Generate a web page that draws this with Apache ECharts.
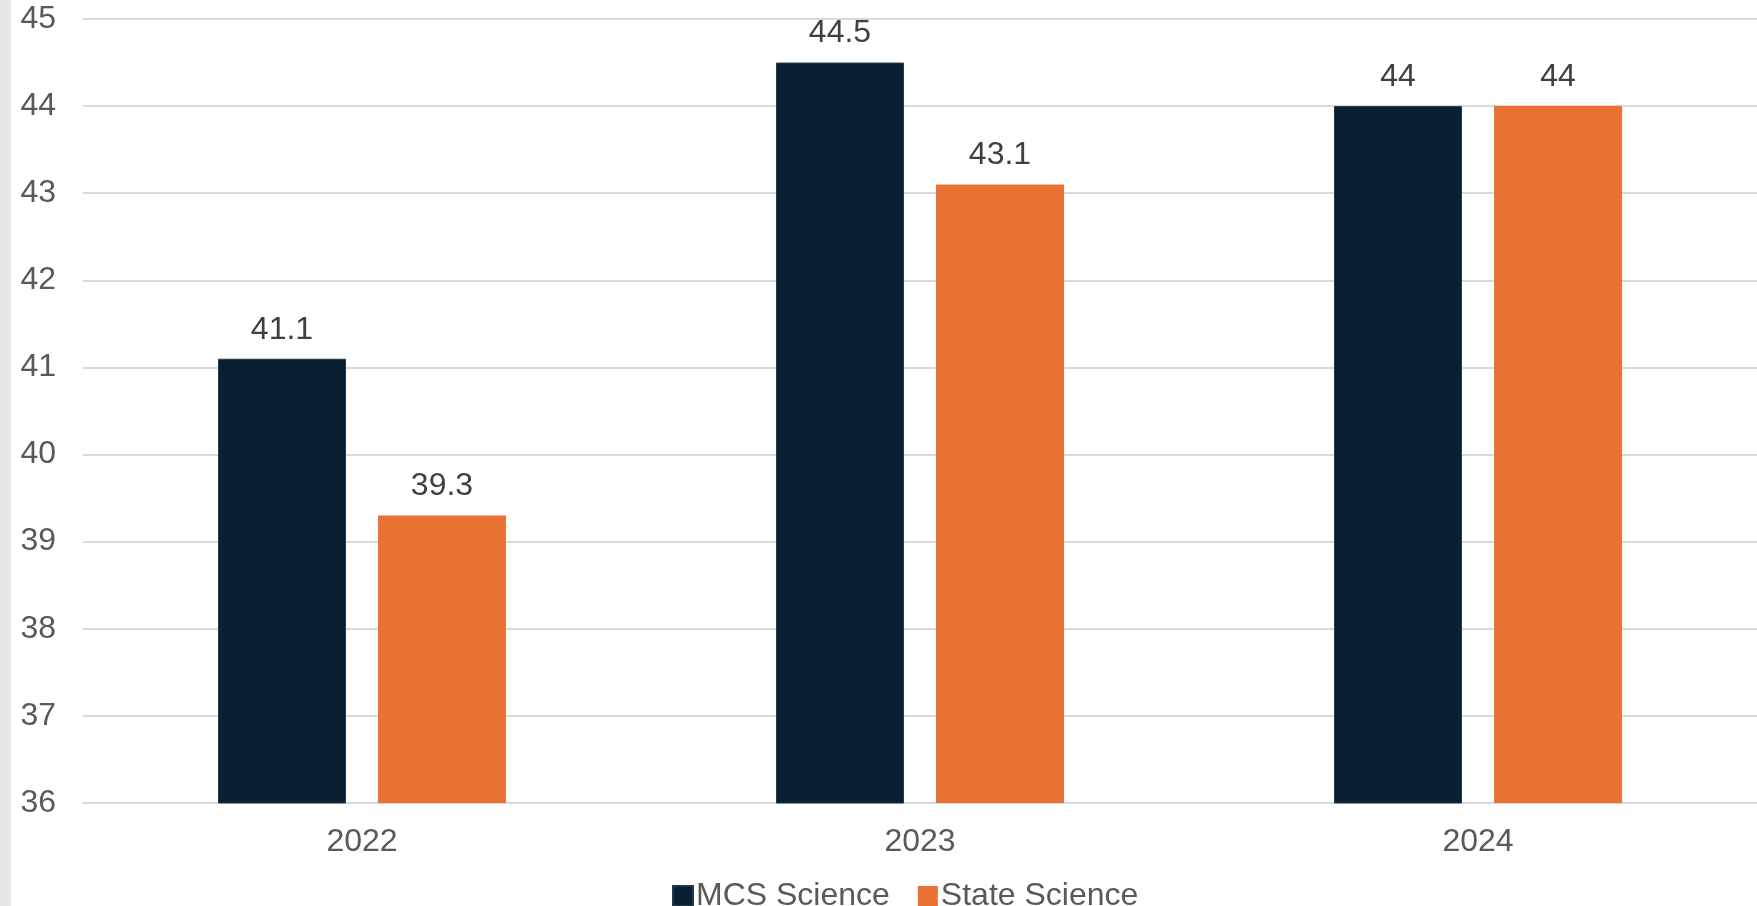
<!DOCTYPE html>
<html>
<head>
<meta charset="utf-8">
<script src="https://cdn.jsdelivr.net/npm/echarts@6/dist/echarts.min.js"></script>
<style>
html,body{margin:0;padding:0;background:#fff;overflow:hidden;}
#chart{width:1757px;height:906px;}
</style>
</head>
<body>
<div id="chart"></div>
<script>
const categories = ['2022', '2023', '2024'];
const mcsScience = [41.1, 44.5, 44];
const stateScience = [39.3, 43.1, 44];
const seriesNames = ['MCS Science', 'State Science'];

const chart = echarts.init(document.getElementById('chart'));
const font = 'Liberation Sans, Arial, sans-serif';
chart.setOption({
  animation: false,
  backgroundColor: '#ffffff',
  graphic: [{
    type: 'rect', left: 0, top: 0, z: 100,
    shape: { width: 11, height: 906 },
    style: { fill: '#e7e7e7' }
  }],
  grid: { left: 83, right: 0, top: 19, height: 784, containLabel: false },
  legend: {
    left: 667, top: 875,
    itemWidth: 20, itemHeight: 20, itemGap: 28,
    icon: 'rect',
    textStyle: { fontFamily: font, fontSize: 32, color: '#595959', padding: [0, 0, 0, -2] },
    data: seriesNames
  },
  xAxis: {
    type: 'category',
    data: categories,
    axisLine: { show: true, lineStyle: { color: '#d9d9d9', width: 2 } },
    axisTick: { show: false },
    axisLabel: { fontFamily: font, fontSize: 32, color: '#595959', margin: 23 }
  },
  yAxis: {
    type: 'value',
    min: 36, max: 45, interval: 1,
    axisLine: { show: false },
    axisTick: { show: false },
    splitLine: { lineStyle: { color: '#d9d9d9', width: 2 } },
    axisLabel: { fontFamily: font, fontSize: 32, color: '#595959', margin: 27 }
  },
  series: [
    {
      name: seriesNames[0], type: 'bar', data: mcsScience,
      barWidth: 128, barGap: '25%',
      itemStyle: { color: '#0b1f33', borderColor: '#1d3a4f', borderWidth: 1 },
      label: { show: true, position: 'top', distance: 13, fontFamily: font, fontSize: 32, color: '#404040' }
    },
    {
      name: seriesNames[1], type: 'bar', data: stateScience,
      barWidth: 128,
      itemStyle: { color: '#e97132' },
      label: { show: true, position: 'top', distance: 13, fontFamily: font, fontSize: 32, color: '#404040' }
    }
  ]
});
</script>
</body>
</html>
